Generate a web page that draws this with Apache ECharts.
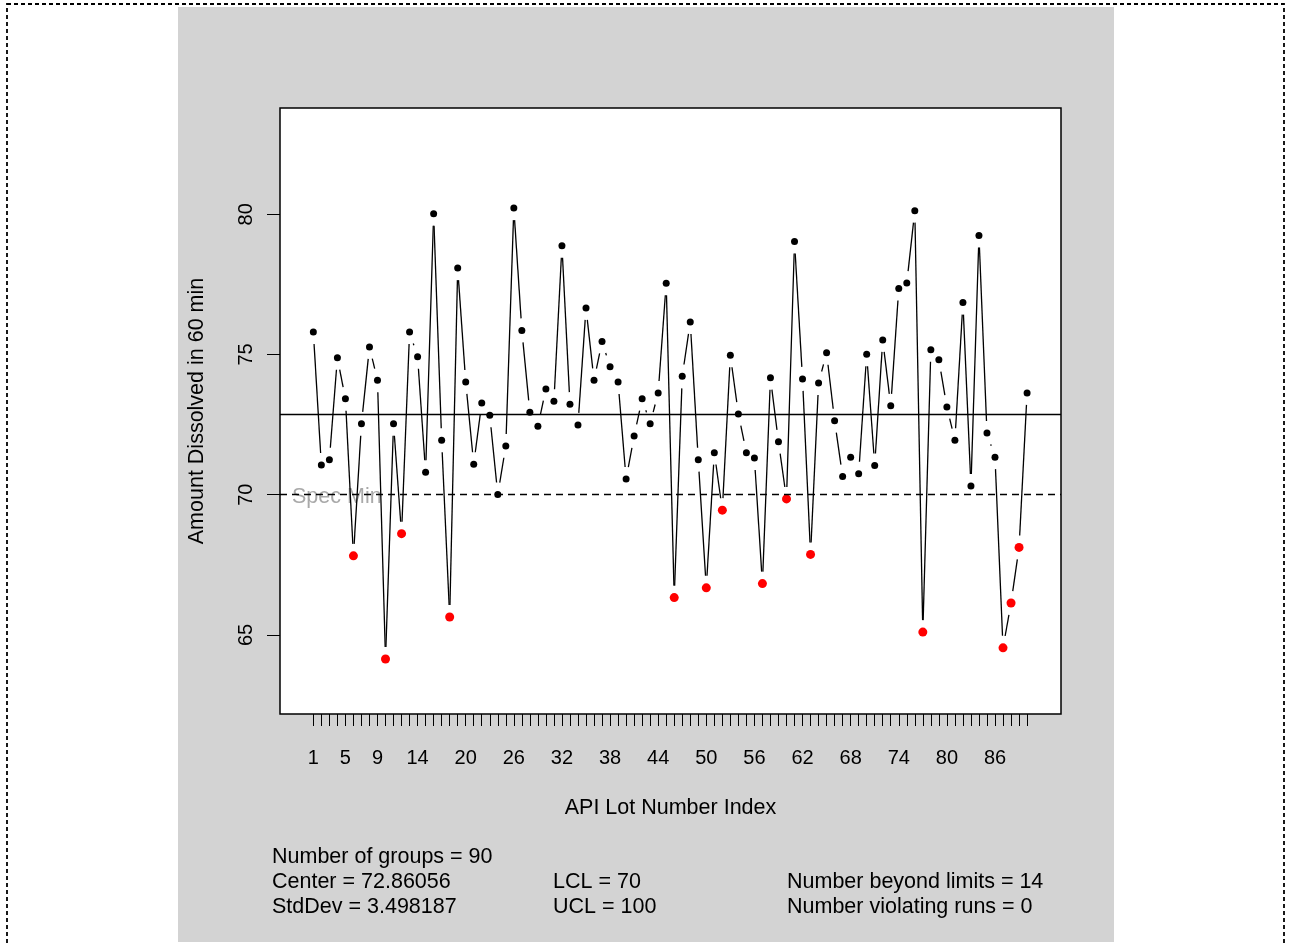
<!DOCTYPE html>
<html>
<head>
<meta charset="utf-8">
<script src="https://cdn.jsdelivr.net/npm/echarts@6/dist/echarts.min.js"></script>
<style>
html,body{margin:0;padding:0;background:#fff;}
#chart{width:1291px;height:945px;}
</style>
</head>
<body>
<div id="chart"></div>
<script>
// ---------- data ----------
const lotIndex = [1,2,3,4,5,6,7,8,9,10,11,12,13,14,15,16,17,18,19,20,
  21,22,23,24,25,26,27,28,29,30,31,32,33,34,35,36,37,38,39,40,
  41,42,43,44,45,46,47,48,49,50,51,52,53,54,55,56,57,58,59,60,
  61,62,63,64,65,66,67,68,69,70,71,72,73,74,75,76,77,78,79,80,
  81,82,83,84,85,86,87,88,89,90];
const dissolved = [75.80,71.06,71.25,74.88,73.42,67.82,72.53,75.27,74.08,64.14,
  72.53,68.61,75.80,74.92,70.80,80.02,71.94,65.64,78.08,74.02,
  71.09,73.27,72.83,70.01,71.74,80.22,75.86,72.94,72.44,73.77,
  73.33,78.88,73.23,72.49,76.66,74.08,75.46,74.56,74.02,70.56,
  72.09,73.42,72.53,73.63,77.54,66.33,74.22,76.16,71.25,66.68,
  71.50,69.45,74.97,72.88,71.50,71.31,66.83,74.17,71.89,69.85,
  79.03,74.13,67.87,73.98,75.06,72.64,70.65,71.34,70.75,75.01,
  71.04,75.52,73.17,77.35,77.55,80.13,65.10,75.17,74.81,73.13,
  71.94,76.85,70.31,79.24,72.20,71.34,64.54,66.14,68.12,73.63];
const xLabelValues = [1,5,9,14,20,26,32,38,44,50,56,62,68,74,80,86];
const yLabelValues = [65,70,75,80];
const centerValue = 72.86056;
const lclValue = 70;
const uclValue = 100;
const stdDevValue = 3.498187;
const violatingRuns = 0;

// ---------- derived ----------
const points = lotIndex.map((x, i) => [x, dissolved[i]]);
const beyond = points.filter(p => p[1] < lclValue);
const segments = [];
for (let i = 0; i < points.length - 1; i++) {
  segments.push([points[i][0], points[i][1], points[i + 1][0], points[i + 1][1]]);
}

const FONT = '"Liberation Sans", Arial, Helvetica, sans-serif';
const chart = echarts.init(document.getElementById('chart'), null, {renderer: 'canvas'});

const statText = (txt, x, y) => ({
  type: 'text', left: x, top: y, z: 5,
  style: {text: txt, fill: '#000', font: '21.5px ' + FONT}
});

chart.setOption({
  backgroundColor: '#ffffff',
  animation: false,
  grid: {
    left: 280, top: 108, width: 781, height: 606,
    show: true, backgroundColor: '#ffffff', borderColor: '#000', borderWidth: 1.5
  },
  xAxis: {
    type: 'value', min: -3.157, max: 94.23,
    axisLine: {show: false, onZero: false},
    splitLine: {show: false},
    axisTick: {show: true, inside: false, length: 12, customValues: lotIndex,
      lineStyle: {color: '#000', width: 1}},
    axisLabel: {show: true, customValues: xLabelValues, margin: 34,
      color: '#000', fontSize: 20, fontFamily: FONT},
    name: 'API Lot Number Index', nameLocation: 'middle', nameGap: 83,
    nameTextStyle: {color: '#000', fontSize: 21.5, fontFamily: FONT}
  },
  yAxis: {
    type: 'value', min: 62.18, max: 83.79,
    axisLine: {show: false, onZero: false},
    splitLine: {show: false},
    axisTick: {show: true, inside: false, length: 13, customValues: yLabelValues,
      lineStyle: {color: '#000', width: 1}},
    axisLabel: {show: true, customValues: yLabelValues, rotate: 90, margin: 24,
      color: '#000', fontSize: 20, fontFamily: FONT},
    name: 'Amount Dissolved in 60 min', nameLocation: 'middle', nameGap: 72,
    nameTextStyle: {color: '#000', fontSize: 21.5, fontFamily: FONT}
  },
  graphic: [
    {type: 'rect', z: -10, silent: true, shape: {x: 178, y: 7, width: 936, height: 935},
      style: {fill: '#d3d3d3'}},
    {type: 'rect', z: -9, silent: true, shape: {x: 7, y: 4, width: 1277, height: 960},
      style: {fill: 'none', stroke: '#000', lineWidth: 1.8, lineDash: [4, 3]}},
    {type: 'text', left: 292, top: 486, z: 1, silent: true,
      style: {text: 'Spec Min', fill: '#a9a9a9', font: '21.5px ' + FONT}},
    statText('Number of groups = ' + lotIndex.length, 272, 846),
    statText('Center = ' + centerValue, 272, 871),
    statText('StdDev = ' + stdDevValue, 272, 896),
    statText('LCL = ' + lclValue, 553, 871),
    statText('UCL = ' + uclValue, 553, 896),
    statText('Number beyond limits = ' + beyond.length, 787, 871),
    statText('Number violating runs = ' + violatingRuns, 787, 896)
  ],
  series: [
    {
      type: 'custom', silent: true, z: 2,
      data: segments,
      encode: {x: [0, 2], y: [1, 3]},
      renderItem: function (params, api) {
        const p0 = api.coord([api.value(0), api.value(1)]);
        const p1 = api.coord([api.value(2), api.value(3)]);
        const dx = p1[0] - p0[0], dy = p1[1] - p0[1];
        const L = Math.sqrt(dx * dx + dy * dy);
        const g = 12;
        if (L <= 2 * g) return {type: 'group', children: []};
        const ux = dx / L, uy = dy / L;
        return {
          type: 'line',
          shape: {x1: p0[0] + ux * g, y1: p0[1] + uy * g, x2: p1[0] - ux * g, y2: p1[1] - uy * g},
          style: {stroke: '#000', lineWidth: 1.3}
        };
      }
    },
    {
      type: 'scatter', silent: true, z: 3,
      data: points, symbol: 'circle', symbolSize: 7,
      itemStyle: {color: '#000', opacity: 1},
      markLine: {
        silent: true, symbol: 'none', animation: false,
        label: {show: false},
        data: [
          {yAxis: centerValue, lineStyle: {color: '#000', width: 1.3, type: 'solid', opacity: 1}},
          {yAxis: lclValue, lineStyle: {color: '#000', width: 1.3, type: [7, 5], opacity: 1}}
        ]
      }
    },
    {
      type: 'scatter', silent: true, z: 4,
      data: beyond, symbol: 'circle', symbolSize: 9,
      itemStyle: {color: '#ff0000', opacity: 1}
    }
  ]
});
</script>
</body>
</html>
